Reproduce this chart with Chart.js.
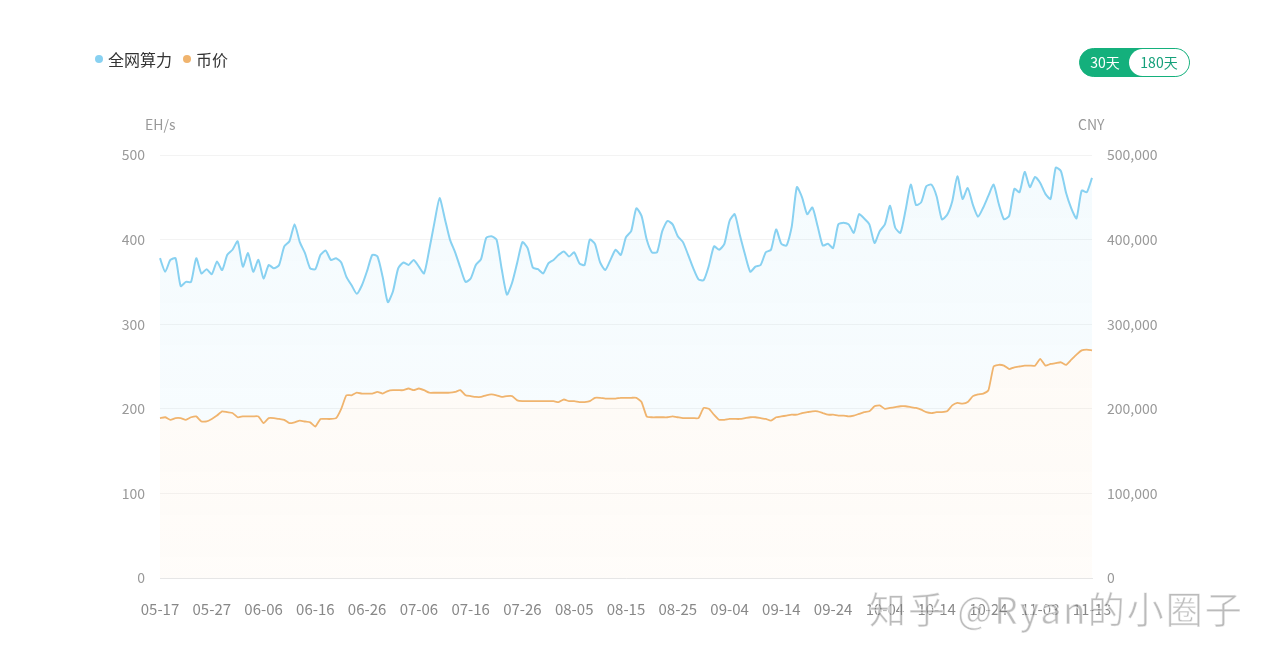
<!DOCTYPE html>
<html>
<head>
<meta charset="utf-8">
<script src="https://cdn.jsdelivr.net/npm/chart.js@4.4.0/dist/chart.umd.min.js"></script>
<style>
  html, body { margin:0; padding:0; background:#fff; }
  #wrap { position:relative; width:1267px; height:664px; font-family:"Noto Sans CJK SC","Noto Sans",sans-serif; }
  canvas { position:absolute; left:0; top:0; }
  .legend { position:absolute; left:95px; top:47px; font-size:16px; color:#333; display:flex; align-items:center; }
  .legend .dot { width:8px; height:8px; border-radius:50%; display:inline-block; margin-right:5px; }
  .legend .item { display:flex; align-items:center; margin-right:11px; }
  .unit { position:absolute; top:114px; font-size:14px; color:#999; }
  .btn { position:absolute; left:1079px; top:48px; width:111px; height:29px; border-radius:15px; background:#14b07c; box-sizing:border-box; border:1px solid #14b07c; font-size:14px; }
  .btn .a { position:absolute; left:0; top:0; width:50px; height:27px; line-height:27px; text-align:center; color:#fff; }
  .btn .b { position:absolute; right:0; top:0; width:60px; height:27px; line-height:27px; text-align:center; color:#14a07a; background:#fff; border-radius:14px; }
  .wm { position:absolute; left:869px; top:581px; font-size:37px; color:rgba(120,120,120,0.5); letter-spacing:2px; white-space:nowrap; -webkit-text-stroke:1px rgba(255,255,255,0.7); }
</style>
</head>
<body>
<div id="wrap">
  <canvas id="c" width="1267" height="664"></canvas>
  <div class="legend">
    <span class="item"><span class="dot" style="background:#88d1f1"></span>全网算力</span>
    <span class="item"><span class="dot" style="background:#f0b46e"></span>币价</span>
  </div>
  <div class="unit" style="left:145px">EH/s</div>
  <div class="unit" style="left:1078px">CNY</div>
  <div class="btn"><div class="a">30天</div><div class="b">180天</div></div>
  <div class="wm">知乎 @Ryan的小圈子</div>
</div>
<script>
// categories: consecutive days starting 05-17
const startMonth = 5, startDay = 17, dayCount = 181;
const categories = [];
(function(){
  const d = new Date(2023, startMonth - 1, startDay);
  for (let i = 0; i < dayCount; i++) {
    const mm = String(d.getMonth() + 1).padStart(2, '0');
    const dd = String(d.getDate()).padStart(2, '0');
    categories.push(mm + '-' + dd);
    d.setDate(d.getDate() + 1);
  }
})();

// 全网算力 (EH/s)
const hashrate = [
  378,362,376,378,345,350,350,378,360,365,
  359,374,364,382,388,398,368,384,362,376,
  354,370,366,370,392,398,418,397,384,366,
  365,382,387,376,378,373,356,346,336,346,
  363,382,380,356,326,339,366,373,370,376,
  368,360,388,420,449,425,400,385,367,350,
  354,370,377,402,404,400,365,335,349,373,
  397,390,367,365,360,372,376,382,386,380,
  385,372,370,400,395,373,364,376,388,382,
  403,410,437,428,400,385,385,410,422,418,
  404,397,382,366,353,352,369,392,388,395,
  422,430,405,382,362,368,370,385,388,412,
  395,393,415,462,450,430,438,416,393,395,
  390,418,420,418,408,430,425,418,396,410,
  418,440,414,408,435,465,441,444,463,465,
  451,424,429,445,475,448,461,441,427,438,
  452,465,442,424,428,460,456,480,462,474,
  467,454,448,485,481,455,437,425,458,456,
  473
];

// 币价 (CNY)
const price = [
  189,190,187,189,189,187,190,191,185,185,
  188,192,197,196,195,190,191,191,191,191,
  183,189,189,188,187,183,184,186,185,184,
  179,188,188,188,189,200,216,216,219,218,
  218,218,220,218,221,222,222,222,224,222,
  224,222,219,219,219,219,219,220,222,216,
  215,214,214,216,217,216,214,215,215,210,
  209,209,209,209,209,209,209,208,211,209,
  209,208,208,209,213,213,212,212,212,213,
  213,213,213,208,191,190,190,190,190,191,
  190,189,189,189,189,201,200,193,187,187,
  188,188,188,189,190,190,189,188,186,190,
  191,192,193,193,195,196,197,197,195,193,
  193,192,192,191,192,194,196,197,203,204,
  200,201,202,203,203,202,201,199,196,195,
  196,196,197,204,207,206,208,215,217,218,
  222,250,252,251,247,249,250,251,251,251,
  259,251,253,254,255,252,258,264,269,270,
  269
].map(v => v * 1000);

const leftTicks = [0, 100, 200, 300, 400, 500];
const rightTicks = [0, 100000, 200000, 300000, 400000, 500000];

const ctx = document.getElementById('c').getContext('2d');

function blueFill(context) {
  const ch = context.chart, a = ch.chartArea;
  if (!a) return 'rgba(136,209,241,0.07)';
  const g = ch.ctx.createLinearGradient(0, a.top, 0, a.bottom);
  g.addColorStop(0, 'rgba(136,209,241,0.09)');
  g.addColorStop(1, 'rgba(136,209,241,0.05)');
  return g;
}
function orangeFill(context) {
  const ch = context.chart, a = ch.chartArea;
  if (!a) return 'rgba(240,180,110,0.06)';
  const g = ch.ctx.createLinearGradient(0, a.top, 0, a.bottom);
  g.addColorStop(0, 'rgba(240,180,110,0.08)');
  g.addColorStop(1, 'rgba(240,180,110,0.04)');
  return g;
}

const fontFam = '"Noto Sans CJK SC","Noto Sans",sans-serif';

new Chart(ctx, {
  type: 'line',
  data: {
    labels: categories,
    datasets: [
      {
        label: '全网算力',
        data: hashrate,
        yAxisID: 'yL',
        borderColor: '#88d1f1',
        borderWidth: 2,
        backgroundColor: blueFill,
        fill: 1,
        pointRadius: 0,
        tension: 0.2,
        order: 1
      },
      {
        label: '币价',
        data: price,
        yAxisID: 'yR',
        borderColor: '#f0b46e',
        borderWidth: 1.8,
        backgroundColor: orangeFill,
        fill: 'origin',
        pointRadius: 0,
        tension: 0.15,
        order: 0
      }
    ]
  },
  options: {
    responsive: false,
    animation: false,
    layout: { padding: { top: 155, left: 0, right: 0, bottom: 0 } },
    plugins: { legend: { display: false }, tooltip: { enabled: false } },
    scales: {
      x: {
        type: 'category',
        offset: false,
        grid: { display: false, drawTicks: false },
        border: { display: true, color: '#e6e6e6' },
        ticks: {
          autoSkip: false,
          maxRotation: 0,
          minRotation: 0,
          padding: 22,
          color: '#888',
          font: { family: fontFam, size: 15 },
          callback: function(v, i) { return i % 10 === 0 ? categories[i] : ''; }
        },
        afterFit: function(s) { s.height = 86; }
      },
      yL: {
        position: 'left',
        min: 0, max: 500,
        afterBuildTicks: function(s) { s.ticks = leftTicks.map(v => ({ value: v })); },
        grid: { color: '#f3f3f3', drawTicks: false },
        border: { display: false },
        ticks: {
          padding: 15,
          color: '#999',
          font: { family: fontFam, size: 14 }
        },
        afterFit: function(s) { s.width = 160; }
      },
      yR: {
        position: 'right',
        min: 0, max: 500000,
        afterBuildTicks: function(s) { s.ticks = rightTicks.map(v => ({ value: v })); },
        grid: { display: false, drawTicks: false },
        border: { display: false },
        ticks: {
          padding: 15,
          color: '#999',
          font: { family: fontFam, size: 14 },
          callback: function(v) { return Number(v).toLocaleString('en-US'); }
        },
        afterFit: function(s) { s.width = 175; }
      }
    }
  }
});
</script>
</body>
</html>
